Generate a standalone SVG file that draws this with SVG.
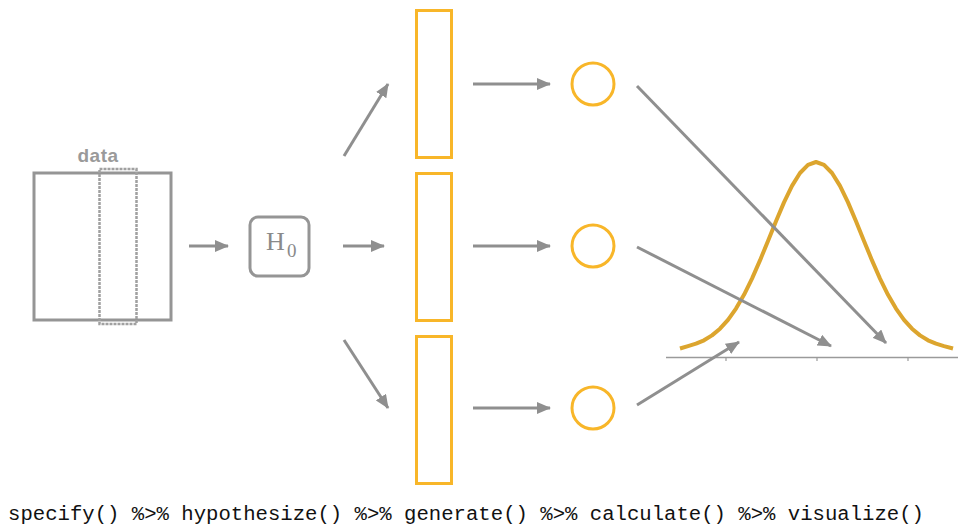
<svg xmlns="http://www.w3.org/2000/svg" width="958" height="526" viewBox="0 0 958 526">
<defs>
<style>
.conn{stroke:#8f8f8f;stroke-width:3;fill:none;marker-end:url(#ah)}
.ybox{fill:none;stroke:#F8B629;stroke-width:3}
.ycirc{fill:none;stroke:#F8B629;stroke-width:3}
.gbox{fill:none;stroke:#959595;stroke-width:3}
</style>
<marker id="ah" markerWidth="14" markerHeight="12" refX="13" refY="6" orient="auto" markerUnits="userSpaceOnUse">
<path d="M0,0 L14,6 L0,12 Z" fill="#8f8f8f"/>
</marker>
</defs>
<rect width="958" height="526" fill="#ffffff"/>
<g id="data">
<rect class="gbox" x="34" y="173" width="137" height="147"/>
<rect x="99.5" y="169" width="37" height="155" fill="none" stroke="#a0a0a0" stroke-width="2.5" stroke-dasharray="3 1"/>
<text x="98" y="162" text-anchor="middle" font-family="Liberation Sans, Arial, sans-serif" font-weight="bold" font-size="19" letter-spacing="0.5" fill="#9a9a9a">data</text>
</g>
<g id="h0">
<rect class="gbox" x="250" y="217" width="59" height="59" rx="8"/>
<text x="266" y="250" font-family="Liberation Serif, Times New Roman, serif" font-size="26" fill="#8a8a8a">H</text>
<text x="287" y="257" font-family="Liberation Serif, Times New Roman, serif" font-size="19" fill="#8a8a8a">0</text>
</g>
<g id="sample1"><rect class="ybox" x="416.5" y="10.5" width="35" height="147"/></g>
<g id="sample2"><rect class="ybox" x="416.5" y="173.5" width="35" height="147"/></g>
<g id="sample3"><rect class="ybox" x="416.5" y="336.5" width="35" height="147"/></g>
<g id="stat1"><circle class="ycirc" cx="593" cy="84" r="21"/></g>
<g id="stat2"><circle class="ycirc" cx="593" cy="246" r="21"/></g>
<g id="stat3"><circle class="ycirc" cx="593" cy="408" r="21"/></g>
<g id="distribution">
<line x1="666" y1="357.5" x2="958" y2="357.5" stroke="#9a9a9a" stroke-width="1.5"/>
<line x1="726" y1="357" x2="726" y2="361" stroke="#9a9a9a" stroke-width="1.2"/>
<line x1="817" y1="357" x2="817" y2="361" stroke="#9a9a9a" stroke-width="1.2"/>
<line x1="908" y1="357" x2="908" y2="361" stroke="#9a9a9a" stroke-width="1.2"/>
<path id="curve" fill="none" stroke="#DCA52E" stroke-width="4" stroke-linecap="butt" stroke-linejoin="round" d="M680,348.5 L688,346.1 L696,343.7 L704,340.3 L712,335.4 L720,328.7 L728,319.8 L736,308.6 L744,294.8 L752,278.6 L760,260.4 L768,240.9 L776,221.2 L784,202.4 L792,185.9 L800,173 L808,164.8 L816,162 L824,164.8 L832,173 L840,185.9 L848,202.4 L856,221.2 L864,240.9 L872,260.4 L880,278.6 L888,294.8 L896,308.6 L904,319.8 L912,328.7 L920,335.4 L928,340.3 L936,343.7 L944,346.1 L953,348.5"/>
</g>
<g id="connectors">
<line class="conn" x1="189" y1="246" x2="228" y2="246"/>
<line class="conn" x1="343" y1="246" x2="384" y2="246"/>
<line class="conn" x1="344" y1="156" x2="388" y2="84"/>
<line class="conn" x1="344" y1="340" x2="388" y2="408"/>
<line class="conn" x1="473" y1="84" x2="550" y2="84"/>
<line class="conn" x1="473" y1="246" x2="550" y2="246"/>
<line class="conn" x1="473" y1="408" x2="550" y2="408"/>
<line class="conn" x1="637" y1="86" x2="886" y2="343"/>
<line class="conn" x1="637" y1="247" x2="831" y2="346"/>
<line class="conn" x1="637" y1="405" x2="739" y2="342"/>
</g>
<text x="8" y="520" font-family="Liberation Mono, Courier New, monospace" font-size="20.5" fill="#111" textLength="916" lengthAdjust="spacingAndGlyphs">specify() %&gt;% hypothesize() %&gt;% generate() %&gt;% calculate() %&gt;% visualize()</text>
</svg>
